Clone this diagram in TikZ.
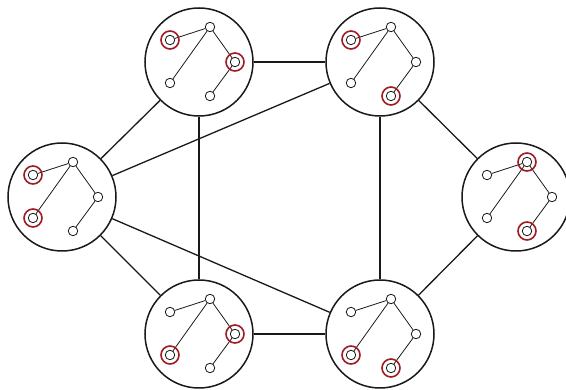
\documentclass[tikz,border=0pt]{standalone}
\definecolor{ringred}{RGB}{158,27,36}
\tikzset{
  bag/.style={circle, draw=black!90, line width=1.5pt, minimum size=108pt, inner sep=0pt},
  leaf/.style={circle, draw=black!90, fill=white, line width=0.8pt, minimum size=9.5pt, inner sep=0pt},
  link/.style={draw=black!90, line width=1.3pt},
  twig/.style={draw=black!90, line width=0.8pt},
  ring/.style={draw=ringred, line width=1.6pt},
}
\begin{document}
\begin{tikzpicture}[x=1pt, y=-1pt]
        \useasboundingbox (0,0) rectangle (566,390);

        \node[bag] (tl) at (199,62) {};
        \node[bag] (tr) at (380,62) {};
        \node[bag] (l) at (62,197) {};
        \node[bag] (r) at (516,197) {};
        \node[bag] (bl) at (199,334) {};
        \node[bag] (br) at (380,334) {};

        \draw[link] (tl) -- (tr);
        \draw[link] (tl) -- (l);
        \draw[link] (tl) -- (bl);
        \draw[link] (tr) -- (l);
        \draw[link] (tr) -- (br);
        \draw[link] (tr) -- (r);
        \draw[link] (l) -- (bl);
        \draw[link] (l) -- (br);
        \draw[link] (bl) -- (br);
        \draw[link] (br) -- (r);

        % same small tree in every bag
        \foreach \b in {tl,tr,l,r,bl,br} {
            \begin{scope}[shift={(\b)}]
                \node[leaf] (\b-t) at (11,-35) {};
                \node[leaf] (\b-a) at (-29,-22) {};
                \node[leaf] (\b-b) at (-29,21) {};
                \node[leaf] (\b-c) at (36,0) {};
                \node[leaf] (\b-d) at (11,34) {};
                \draw[twig] (\b-t) -- (\b-a);
                \draw[twig] (\b-t) -- (\b-b);
                \draw[twig] (\b-t) -- (\b-c);
                \draw[twig] (\b-c) -- (\b-d);
            \end{scope}
        }

        \draw[ring] (tl-a) circle (9pt);
        \draw[ring] (tl-c) circle (9pt);
        \draw[ring] (tr-a) circle (9pt);
        \draw[ring] (tr-d) circle (9pt);
        \draw[ring] (l-a) circle (9pt);
        \draw[ring] (l-b) circle (9pt);
        \draw[ring] (r-t) circle (9pt);
        \draw[ring] (r-d) circle (9pt);
        \draw[ring] (bl-c) circle (9pt);
        \draw[ring] (bl-b) circle (9pt);
        \draw[ring] (br-b) circle (9pt);
        \draw[ring] (br-d) circle (9pt);
    \end{tikzpicture}
\end{document}
